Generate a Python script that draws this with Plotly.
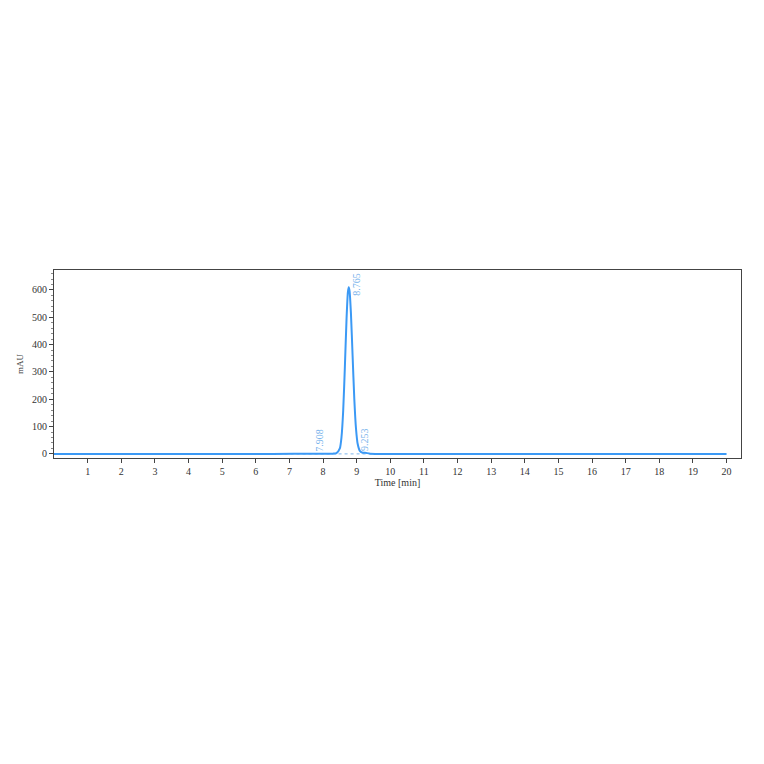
import plotly.graph_objects as go

# chromatogram trace (time in min, signal in mAU)
time_min = [0.0, 6.5, 7.9, 8.3, 8.4, 8.5, 8.55, 8.6, 8.65, 8.7, 8.74, 8.765,
            8.79, 8.83, 8.88, 8.93, 8.98, 9.03, 9.1, 9.18, 9.25, 9.4, 10.0, 20.0]
signal_mau = [0, 0, 1, 1, 3, 20, 62, 158, 318, 496, 592, 610,
              596, 515, 358, 202, 94, 37, 10, 4, 4, 1, 0, 0]

# peak labels
peak_times = [7.908, 8.765, 9.253]
peak_labels = ['7.908', '8.765', '9.253']
peak_label_y = [2, 572, 2]

# integration baseline
base_times = [6.5, 11.8]
base_vals = [0, 0]

x_ticks = list(range(1, 21))
y_ticks = [0, 100, 200, 300, 400, 500, 600]

line_blue = '#3b99f5'
label_blue = '#7ab4ec'
axis_col = '#444444'
font_fam = 'Liberation Serif, DejaVu Serif, serif'

fig = go.Figure()
fig.add_trace(go.Scatter(x=base_times, y=base_vals, mode='lines',
                         line=dict(color=label_blue, width=1, dash='dot'),
                         hoverinfo='skip'))
fig.add_trace(go.Scatter(x=time_min, y=signal_mau, mode='lines',
                         line=dict(color=line_blue, width=2, shape='spline',
                                   smoothing=0.6)))

for t, lab, yy in zip(peak_times, peak_labels, peak_label_y):
    fig.add_annotation(x=t, y=yy, text=lab, showarrow=False, textangle=-90,
                       xanchor='center', yanchor='bottom',
                       xshift=7 if lab == '8.765' else 0,
                       font=dict(family=font_fam, size=10, color=label_blue))

# page body has an 8px margin, so the plot margins are shifted by that
fig.update_layout(
    width=764, height=764,
    margin=dict(l=41, r=31, t=262, b=314),
    paper_bgcolor='white', plot_bgcolor='white',
    showlegend=False,
    font=dict(family=font_fam, size=10, color='#333333'),
)
fig.update_xaxes(range=[0, 20.43], tickvals=x_ticks, ticks='outside',
                 ticklen=4, tickcolor=axis_col, showgrid=False, zeroline=False,
                 showline=True, mirror=True, linecolor=axis_col, linewidth=1.2,
                 title=dict(text='Time [min]', standoff=1,
                            font=dict(family=font_fam, size=10)))
fig.update_yaxes(range=[-15, 673], tickvals=y_ticks, ticks='outside',
                 ticklen=4, tickcolor=axis_col, showgrid=False, zeroline=False,
                 showline=True, mirror=True, linecolor=axis_col, linewidth=1.2,
                 minor=dict(dtick=20, ticks='outside', ticklen=2,
                            tickcolor='#888888'),
                 title=dict(text='mAU', standoff=6,
                            font=dict(family=font_fam, size=9)))

fig.write_html("out.html")
